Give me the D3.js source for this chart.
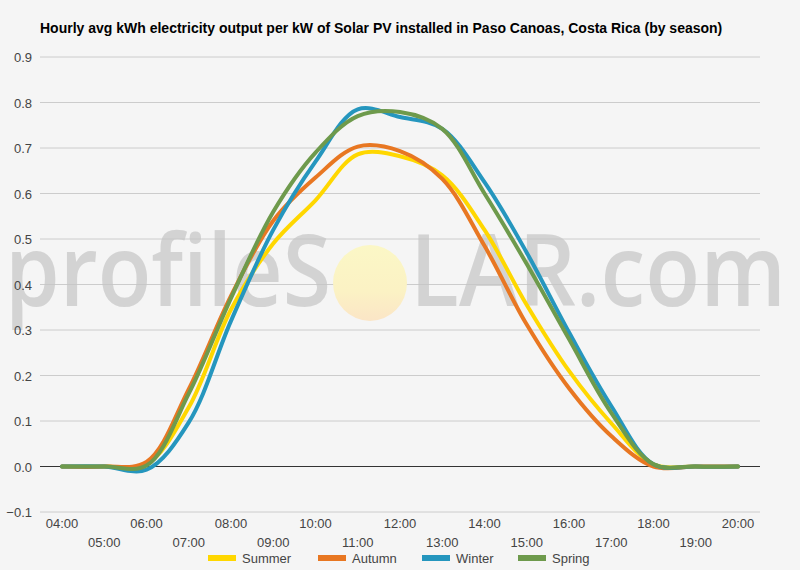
<!DOCTYPE html>
<html><head><meta charset="utf-8">
<script src="https://cdn.jsdelivr.net/npm/d3@7"></script>
<style>body{margin:0;background:#f5f5f5}svg{display:block}</style>
</head><body>
<svg id="c" width="800" height="570"></svg>
<script>
const title = "Hourly avg kWh electricity output per kW of Solar PV installed in Paso Canoas, Costa Rica (by season)";
const hours = [4,5,6,7,8,9,10,11,12,13,14,15,16,17,18,19,20];
const hourLabels = ["04:00","05:00","06:00","07:00","08:00","09:00","10:00","11:00","12:00","13:00","14:00","15:00","16:00","17:00","18:00","19:00","20:00"];
const seriesNames = ["Summer","Autumn","Winter","Spring"];
const seriesColors = ["#ffd700","#e87722","#2596be","#6e9a4c"];
const summer = [0,0,0.005,0.13,0.345,0.49,0.585,0.686,0.682,0.64,0.52,0.355,0.21,0.095,0.005,0,0];
const autumn = [0,0,0.01,0.17,0.375,0.54,0.635,0.703,0.693,0.632,0.485,0.312,0.172,0.067,0.0,0,0];
const winter = [0,0,-0.007,0.097,0.32,0.52,0.67,0.785,0.768,0.742,0.625,0.47,0.295,0.133,0.005,0,0];
const spring = [0,0,0.002,0.16,0.37,0.56,0.69,0.77,0.779,0.742,0.6,0.445,0.28,0.118,0.005,0,0];
const yTicks = [-0.1,0,0.1,0.2,0.3,0.4,0.5,0.6,0.7,0.8,0.9];
const seriesValues = [summer, autumn, winter, spring];

const svg = d3.select("#c");
svg.append("rect").attr("width",800).attr("height",570).attr("fill","#f5f5f5");

const x = d3.scaleLinear().domain([4,20]).range([62,738]);
const y = d3.scaleLinear().domain([-0.1,0.9]).range([512,57]);
const gridX0 = 40, gridX1 = 760;

// gridlines
svg.append("g").selectAll("line").data(yTicks.filter(d=>d!==0)).join("line")
  .attr("x1",gridX0).attr("x2",gridX1)
  .attr("y1",d=>y(d)).attr("y2",d=>y(d))
  .attr("stroke","#cccccc").attr("stroke-width",1);

// watermark
const wm = svg.append("g");
const grad = svg.append("defs").append("linearGradient").attr("id","sun").attr("x1",0).attr("y1",0).attr("x2",0).attr("y2",1);
grad.append("stop").attr("offset","0%").attr("stop-color","#fbf7c6");
grad.append("stop").attr("offset","60%").attr("stop-color","#fbf2c4");
grad.append("stop").attr("offset","100%").attr("stop-color","#fbe5c6");
wm.append("ellipse").attr("cx",370).attr("cy",283).attr("rx",37).attr("ry",38).attr("fill","url(#sun)");
const wmStyle = s => s.attr("font-family","Open Sans, Liberation Sans, sans-serif").attr("font-size",100)
  .attr("font-weight",600).attr("fill","#c4c4c4").attr("fill-opacity",0.7)
  .attr("lengthAdjust","spacingAndGlyphs");
wm.append("text").attr("x",5).attr("y",306).call(wmStyle).attr("textLength",326).text("profileS");
wm.append("text").attr("x",410).attr("y",306).call(wmStyle).attr("textLength",376).text("LAR.com");

// y axis labels
svg.append("g").selectAll("text").data(yTicks).join("text")
  .attr("x",32).attr("y",d=>y(d)+5)
  .attr("text-anchor","end")
  .attr("font-family","Liberation Sans, Arial, sans-serif").attr("font-size",13).attr("fill","#444")
  .text(d=>d3.format(".1f")(d));

// zero line
svg.append("line").attr("x1",gridX0).attr("x2",gridX1).attr("y1",y(0)).attr("y2",y(0))
  .attr("stroke","#333").attr("stroke-width",1);

// x labels
svg.append("g").selectAll("text").data(hours).join("text")
  .attr("x",d=>x(d)).attr("y",(d,i)=> i%2===0 ? 528 : 547)
  .attr("text-anchor","middle")
  .attr("font-family","Liberation Sans, Arial, sans-serif").attr("font-size",13).attr("fill","#444")
  .text((d,i)=>hourLabels[i]);

// lines
const line = d3.line().x((d,i)=>x(hours[i])).y(d=>y(d)).curve(d3.curveCatmullRom.alpha(0.5));
svg.append("g").selectAll("path").data(seriesValues).join("path")
  .attr("d",d=>line(d)).attr("fill","none")
  .attr("stroke",(d,i)=>seriesColors[i]).attr("stroke-width",4)
  .attr("stroke-linejoin","round").attr("stroke-linecap","round");

// title
svg.append("text").attr("x",40).attr("y",33)
  .attr("font-family","Liberation Sans, Arial, sans-serif").attr("font-size",14).attr("font-weight","bold").attr("fill","#000")
  .text(title);

// legend
const legX = [208,318,422,518];
const lg = svg.append("g").selectAll("g").data(seriesNames).join("g")
  .attr("transform",(d,i)=>`translate(${legX[i]},558)`);
lg.append("rect").attr("x",0).attr("y",-3).attr("width",28).attr("height",6).attr("fill",(d,i)=>seriesColors[i]);
lg.append("text").attr("x",34).attr("y",5)
  .attr("font-family","Liberation Sans, Arial, sans-serif").attr("font-size",13).attr("fill","#444")
  .text(d=>d);
</script>
</body></html>
